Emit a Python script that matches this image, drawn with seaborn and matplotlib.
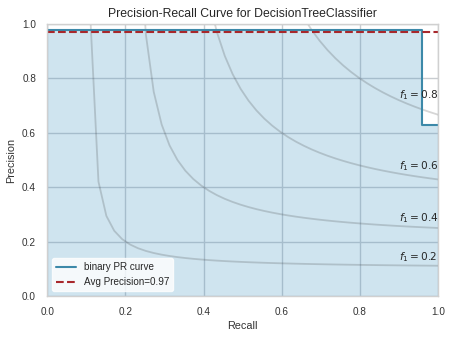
import numpy as np
import matplotlib
matplotlib.use("Agg")
import matplotlib.pyplot as plt
import seaborn as sns

# Data
recall = [1.0, 0.96, 0.0]
precision = [0.63, 0.98, 1.0]
avg_precision = 0.97
iso_f1_values = [0.2, 0.4, 0.6, 0.8]
title = "Precision-Recall Curve for DecisionTreeClassifier"

sns.set_theme(style="whitegrid", rc={
    "axes.edgecolor": "#d0d0d0",
    "grid.color": "#c8ccd0",
    "axes.linewidth": 1.0,
})
plt.rcParams["font.family"] = ["Liberation Sans", "DejaVu Sans"]
plt.rcParams["mathtext.fontset"] = "dejavusans"

line_color = "#3c89a9"
fill_color = "#3a8fc0"
fig, ax = plt.subplots(figsize=(4.67, 3.39), dpi=100)
fig.subplots_adjust(left=0.101, right=0.938, top=0.929, bottom=0.127)

# iso-f1 curves
x_vals = np.linspace(0.01, 1, 50)
for f1 in iso_f1_values:
    y_vals = f1 * x_vals / (2 * x_vals - f1)
    mask = y_vals >= 0
    sns.lineplot(x=x_vals[mask], y=y_vals[mask], ax=ax, color="#333333", alpha=0.2,
                 lw=1.3, sort=False, estimator=None)
    ax.annotate(r"$f_1={:0.1f}$".format(f1), xy=(0.9, y_vals[45] + 0.02),
                fontsize=7.6, color="#262626")

ax.step(recall, precision, where="post", color=line_color, lw=1.5, label="binary PR curve")
ax.fill_between(recall, precision, step="post", color=fill_color, alpha=0.24, lw=0)
ax.axhline(y=avg_precision, color="#a8282c", ls="--", lw=1.5,
           label="Avg Precision={:0.2f}".format(avg_precision))

ax.set_xlim(0, 1)
ax.set_ylim(0, 1)
ax.set_xticks([0, 0.2, 0.4, 0.6, 0.8, 1.0])
ax.set_yticks([0, 0.2, 0.4, 0.6, 0.8, 1.0])
ax.tick_params(labelsize=7.2, colors="#333333", pad=2)
ax.set_xlabel("Recall", fontsize=7.8, color="#333333", labelpad=3)
ax.set_ylabel("Precision", fontsize=7.8, color="#333333", labelpad=4)
ax.set_title(title, fontsize=8.8, color="#262626", pad=5)
leg = ax.legend(loc="lower left", frameon=True, fontsize=7.1, facecolor="white",
                edgecolor="white", framealpha=0.8)
for t in leg.get_texts():
    t.set_color("#262626")

fig.savefig("out.png", dpi=100)
